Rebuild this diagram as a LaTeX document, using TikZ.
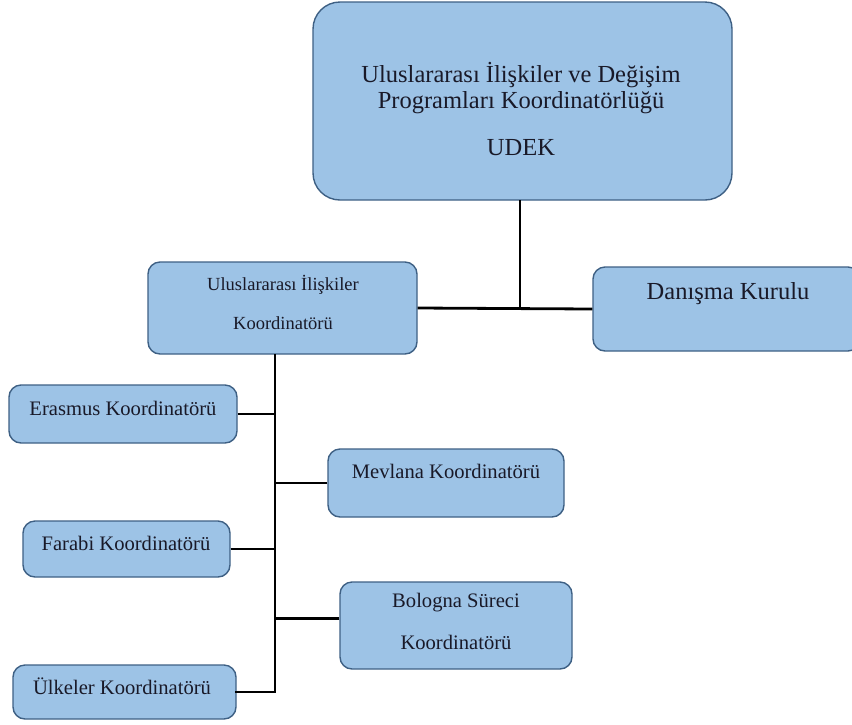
\documentclass[tikz,border=0pt]{standalone}
\usepackage{fontspec}
\setmainfont{Liberation Serif}
\definecolor{boxfill}{RGB}{157,195,230}
\definecolor{boxline}{RGB}{62,96,132}
\definecolor{txt}{RGB}{25,25,40}
\begin{document}
\begin{tikzpicture}[x=1pt,y=-1pt,
  orgbox/.style={draw=boxline,line width=1.4pt,fill=boxfill,rounded corners=#1,inner sep=0pt},
  orgbox/.default=12pt,
  lbl/.style={text=txt,inner sep=0pt,anchor=center},
  big/.style={font=\fontsize{24.5}{28}\selectfont},
  mid/.style={font=\fontsize{18.5}{22}\selectfont},
  sml/.style={font=\fontsize{20.6}{24}\selectfont},
  conn/.style={draw=black,line width=2.8pt}]
\useasboundingbox (0,0) rectangle (852,724);
\clip (0,0) rectangle (852,724);
% boxes
\path[orgbox=27pt] (313,2) rectangle (732,200);
\node[inner sep=0pt,minimum width=419pt,minimum height=198pt] (top) at (522.5,101) {};
\node[orgbox,minimum width=269pt,minimum height=92pt] (uik) at (282.5,308) {};
\node[orgbox,minimum width=267pt,minimum height=84pt] (dan) at (726.5,309) {};
\node[orgbox,minimum width=228pt,minimum height=58pt] (era) at (123,414) {};
\node[orgbox,minimum width=236pt,minimum height=68pt] (mev) at (446,483) {};
\node[orgbox,minimum width=207pt,minimum height=56pt] (far) at (126.5,549) {};
\node[orgbox,minimum width=232pt,minimum height=87pt] (bol) at (456,625.5) {};
\node[orgbox,minimum width=223pt,minimum height=54pt] (ulk) at (124.5,692) {};
% texts
\node[lbl,big] (t1) at (521,75) {Uluslararası İlişkiler ve Değişim};
\node[lbl,big] (t2) at (521,103) {Programları Koordinatörlüğü};
\node[lbl,big] (t3) at (521,148) {UDEK};
\node[lbl,mid] (u1) at (283,285) {Uluslararası İlişkiler};
\node[lbl,mid] (u2) at (283,323) {Koordinatörü};
\node[lbl,big] (d1) at (728,294) {Danışma Kurulu};
\node[lbl,sml] (e1) at (123,408) {Erasmus Koordinatörü};
\node[lbl,sml] (m1) at (446,471) {Mevlana Koordinatörü};
\node[lbl,sml] (f1) at (126,543) {Farabi Koordinatörü};
\node[lbl,sml] (b1) at (456,603) {Bologna Süreci};
\node[lbl,sml] (b2) at (456,642) {Koordinatörü};
\node[lbl,sml] (k1) at (122,686) {Ülkeler Koordinatörü};
% connectors
\coordinate (j) at (520,308);
\coordinate (ta) at (275,354);
\coordinate (tb) at (275,692);
\coordinate (bw) at ([yshift=7pt]bol.west);
\draw[conn] (j |- top.south) -- (j);
\draw[conn] (uik.east) -- (dan.west);
\draw[conn] (ta) -- (tb);
\draw[conn] (era.east) -- (ta |- era.east);
\draw[conn] (mev.west) -- (ta |- mev.west);
\draw[conn] (far.east) -- (ta |- far.east);
\draw[conn] (bw) -- (ta |- bw);
\draw[conn,line cap=rect] (ulk.east) -- (tb);
\end{tikzpicture}
\end{document}
